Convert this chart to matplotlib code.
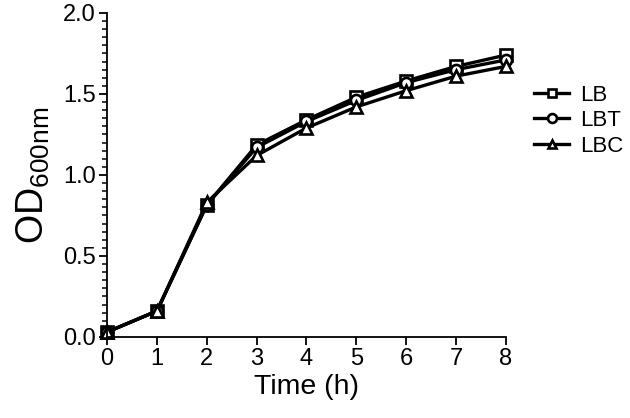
import matplotlib
matplotlib.use("Agg")
import matplotlib.pyplot as plt
from matplotlib.ticker import MultipleLocator

plt.rcParams['font.family'] = ['Liberation Sans', 'DejaVu Sans']
plt.rcParams['mathtext.fontset'] = 'custom'
plt.rcParams['mathtext.rm'] = 'Liberation Sans'

time_h = [0, 1, 2, 3, 4, 5, 6, 7, 8]
od_lb = [0.03, 0.16, 0.815, 1.185, 1.34, 1.48, 1.58, 1.67, 1.74]
od_lbt = [0.03, 0.16, 0.815, 1.17, 1.33, 1.46, 1.57, 1.65, 1.71]
od_lbc = [0.03, 0.16, 0.83, 1.12, 1.29, 1.42, 1.52, 1.61, 1.67]

series = [("LB", od_lb, "s"), ("LBT", od_lbt, "o"), ("LBC", od_lbc, "^")]


def plot_graph():
    fig = plt.figure(figsize=(6.3, 4.18), dpi=100)
    ax = fig.add_axes([0.170, 0.194, 0.633, 0.775])

    for name, vals, mk in series:
        ax.plot(time_h, vals, color="black", lw=2.4, marker=mk, markersize=8,
                markerfacecolor="white", markeredgecolor="black",
                markeredgewidth=1.9, label=name, clip_on=False)

    ax.set_xlim(0, 8)
    ax.set_ylim(0, 2.0)
    ax.xaxis.set_major_locator(MultipleLocator(1))
    ax.yaxis.set_major_locator(MultipleLocator(0.5))
    ax.yaxis.set_minor_locator(MultipleLocator(0.05))
    ax.yaxis.set_major_formatter(plt.FormatStrFormatter("%.1f"))

    for s in ["top", "right"]:
        ax.spines[s].set_visible(False)
    for s in ["left", "bottom"]:
        ax.spines[s].set_linewidth(1.3)
    ax.tick_params(axis="both", which="major", direction="out", length=6,
                   width=1.3, labelsize=17, pad=2)
    ax.tick_params(axis="y", which="minor", direction="out", length=3.5,
                   width=1.1)

    ax.set_xlabel("Time (h)", fontsize=20.5, labelpad=3)
    ax.set_ylabel(r"OD$_{\mathregular{600nm}}$", fontsize=27, labelpad=8)

    ax.legend(loc="upper left", bbox_to_anchor=(1.02, 0.84), frameon=False,
              fontsize=16, handlelength=1.6, handletextpad=0.5,
              labelspacing=0.2, markerscale=0.8)

    fig.savefig("out.png", dpi=100)


if __name__ == '__main__':
    plot_graph()
